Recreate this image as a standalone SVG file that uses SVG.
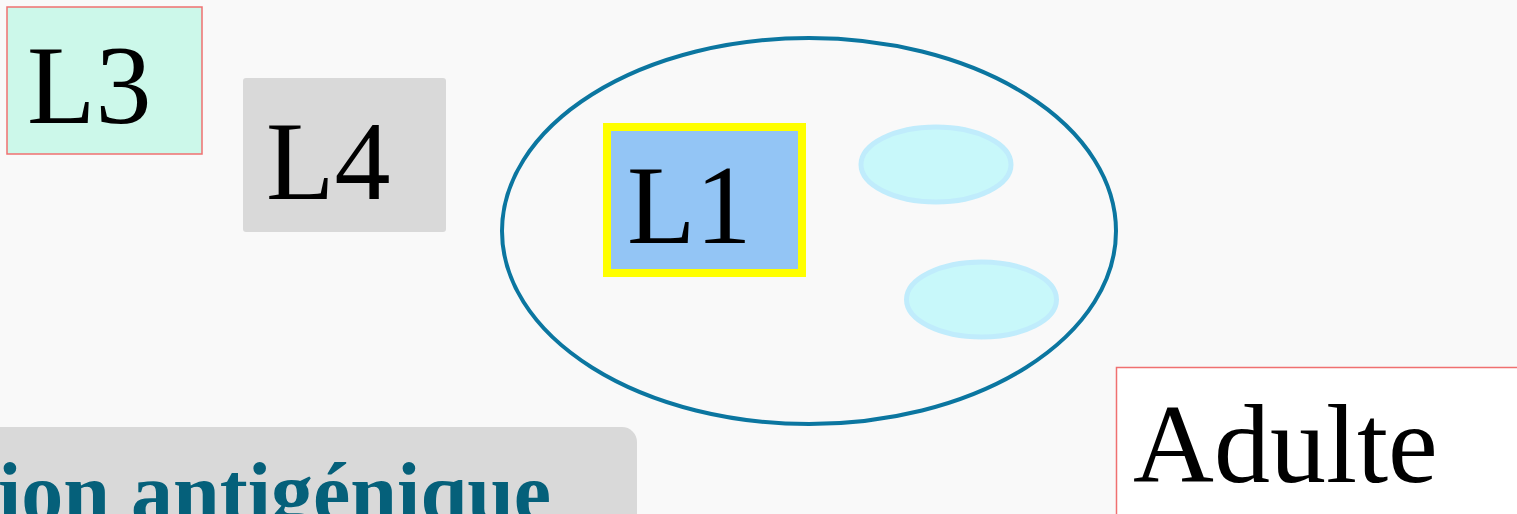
<svg xmlns="http://www.w3.org/2000/svg" width="1517" height="514" viewBox="0 0 1517 514">
<style>
.lbl{font-family:"Liberation Serif","DejaVu Serif",serif;font-size:112px;fill:#000}
.redbox{stroke:#f07070;stroke-width:1.5}
.vac{fill:#c8f8fa;stroke:#c0ecfc;stroke-width:5}
</style>
<rect width="1517" height="514" fill="#f9f9f9"/>
<g id="cell">
<ellipse cx="809" cy="231" rx="307" ry="193" fill="none" stroke="#0b76a0" stroke-width="4"/>
</g>
<g id="vacuole1"><ellipse class="vac" cx="936" cy="164.5" rx="75" ry="37.5"/></g>
<g id="vacuole2"><ellipse class="vac" cx="981.5" cy="299.5" rx="75" ry="37.5"/></g>
<g id="L3">
<rect class="redbox" x="7" y="7" width="195" height="147" fill="#ccf8ea"/>
<text class="lbl" x="27" y="123">L3</text>
</g>
<g id="L4">
<rect x="243" y="78" width="203" height="154" rx="3" fill="#d9d9d9"/>
<text class="lbl" x="266" y="199">L4</text>
</g>
<g id="L1">
<rect x="607" y="127" width="195" height="146" fill="#93c5f5" stroke="#ffff00" stroke-width="8"/>
<text class="lbl" x="627" y="243">L1</text>
</g>
<g id="Adulte">
<rect class="redbox" x="1116.5" y="367.5" width="410" height="160" fill="#ffffff"/>
<text class="lbl" x="1133" y="482">Adulte</text>
</g>
<g id="variation">
<rect x="-20" y="427" width="657" height="120" rx="15" fill="#d9d9d9"/>
<text x="-2" y="521" font-family="Liberation Serif, DejaVu Serif, serif" font-weight="bold" font-size="84" fill="#05607a">ion antigénique</text>
</g>
<g id="connectors"></g>
</svg>
